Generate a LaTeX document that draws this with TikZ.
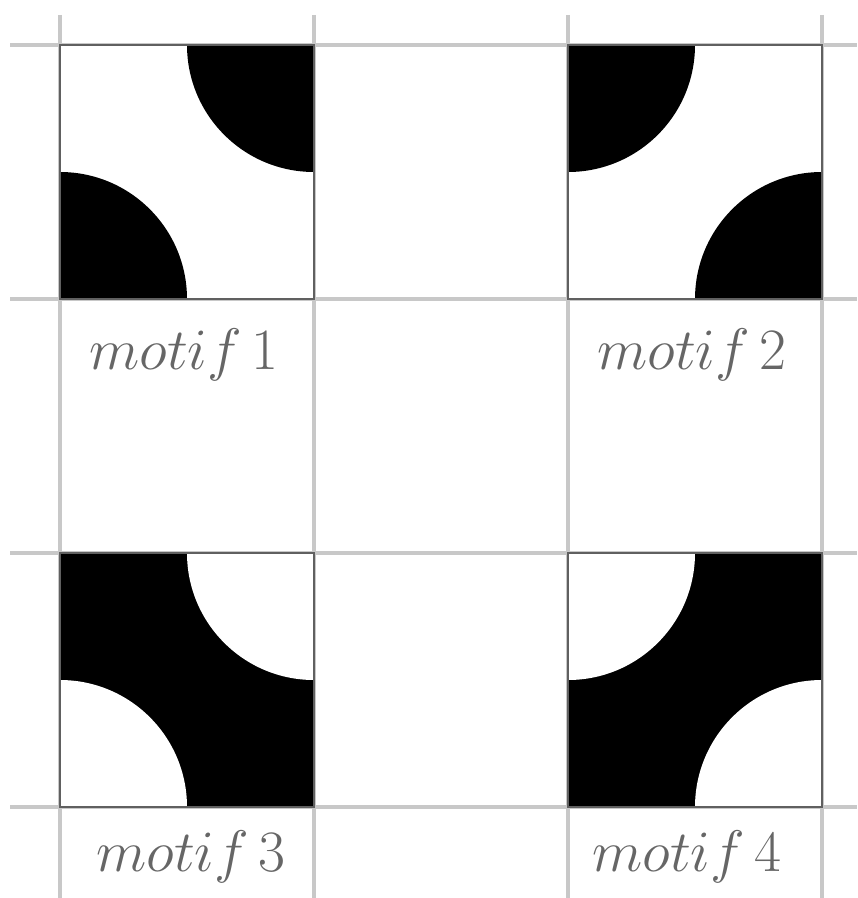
\RequirePackage{fix-cm}
\documentclass[tikz,border=0pt]{standalone}
\definecolor{gridgray}{HTML}{C8C8C8}
\definecolor{boxgray}{HTML}{606060}
\definecolor{labelgray}{HTML}{666666}
\tikzset{
  gridline/.style={draw=gridgray, line width=2.6pt},
  cellbox/.style={draw=boxgray, line width=1pt},
  motiflabel/.style={text=labelgray, inner sep=0pt, font=\fontsize{50}{60}\selectfont}
}
\begin{document}
\begin{tikzpicture}[x=0.03cm,y=-0.03cm]
\useasboundingbox (0,0) rectangle (857,898);
% grid
\foreach \gx in {60,314,568,822} \draw[gridline] (\gx,15) -- (\gx,898);
\foreach \gy in {45,299,553,807} \draw[gridline] (10,\gy) -- (857,\gy);
% motif 1
\begin{scope}
  \clip (60,45) rectangle (314,299);
  \fill[white] (60,45) rectangle (314,299);
  \fill[black] (314,45) circle[radius=127];
  \fill[black] (60,299) circle[radius=127];
\end{scope}
\draw[cellbox] (60,45) rectangle (314,299);
% motif 2
\begin{scope}
  \clip (568,45) rectangle (822,299);
  \fill[white] (568,45) rectangle (822,299);
  \fill[black] (568,45) circle[radius=127];
  \fill[black] (822,299) circle[radius=127];
\end{scope}
\draw[cellbox] (568,45) rectangle (822,299);
% motif 3
\begin{scope}
  \clip (60,553) rectangle (314,807);
  \fill[black] (60,553) rectangle (314,807);
  \fill[white] (314,553) circle[radius=127];
  \fill[white] (60,807) circle[radius=127];
\end{scope}
\draw[cellbox] (60,553) rectangle (314,807);
% motif 4
\begin{scope}
  \clip (568,553) rectangle (822,807);
  \fill[black] (568,553) rectangle (822,807);
  \fill[white] (568,553) circle[radius=127];
  \fill[white] (822,807) circle[radius=127];
\end{scope}
\draw[cellbox] (568,553) rectangle (822,807);
% labels
\node[motiflabel] (l1) at (184,355) {$motif\,1$};
\node[motiflabel] (l2) at (692,355) {$motif\,2$};
\node[motiflabel] (l3) at (191,857) {$motif\,3$};
\node[motiflabel] (l4) at (687,857) {$motif\,4$};
\end{tikzpicture}
\end{document}
